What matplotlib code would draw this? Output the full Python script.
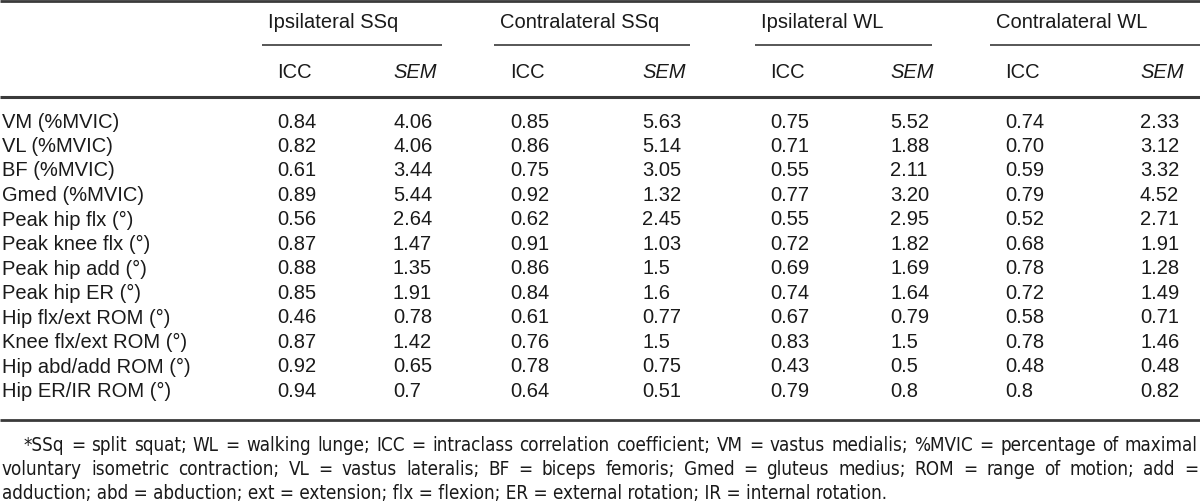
import matplotlib
matplotlib.use('Agg')
import matplotlib.pyplot as plt
from matplotlib import font_manager

# Table data
groups = ['Ipsilateral SSq', 'Contralateral SSq', 'Ipsilateral WL', 'Contralateral WL']
sub_headers = ['ICC', 'SEM'] * 4
measures = ['VM (%MVIC)', 'VL (%MVIC)', 'BF (%MVIC)', 'Gmed (%MVIC)',
            'Peak hip flx (°)', 'Peak knee flx (°)', 'Peak hip add (°)', 'Peak hip ER (°)',
            'Hip flx/ext ROM (°)', 'Knee flx/ext ROM (°)', 'Hip abd/add ROM (°)', 'Hip ER/IR ROM (°)']
ipsi_ssq_icc = ['0.84', '0.82', '0.61', '0.89', '0.56', '0.87', '0.88', '0.85', '0.46', '0.87', '0.92', '0.94']
ipsi_ssq_sem = ['4.06', '4.06', '3.44', '5.44', '2.64', '1.47', '1.35', '1.91', '0.78', '1.42', '0.65', '0.7']
contra_ssq_icc = ['0.85', '0.86', '0.75', '0.92', '0.62', '0.91', '0.86', '0.84', '0.61', '0.76', '0.78', '0.64']
contra_ssq_sem = ['5.63', '5.14', '3.05', '1.32', '2.45', '1.03', '1.5', '1.6', '0.77', '1.5', '0.75', '0.51']
ipsi_wl_icc = ['0.75', '0.71', '0.55', '0.77', '0.55', '0.72', '0.69', '0.74', '0.67', '0.83', '0.43', '0.79']
ipsi_wl_sem = ['5.52', '1.88', '2.11', '3.20', '2.95', '1.82', '1.69', '1.64', '0.79', '1.5', '0.5', '0.8']
contra_wl_icc = ['0.74', '0.70', '0.59', '0.79', '0.52', '0.68', '0.78', '0.72', '0.58', '0.78', '0.48', '0.8']
contra_wl_sem = ['2.33', '3.12', '3.32', '4.52', '2.71', '1.91', '1.28', '1.49', '0.71', '1.46', '0.48', '0.82']
footnote_lines = [
    '*SSq = split squat; WL = walking lunge; ICC = intraclass correlation coefficient; VM = vastus medialis; %MVIC = percentage of maximal',
    'voluntary isometric contraction; VL = vastus lateralis; BF = biceps femoris; Gmed = gluteus medius; ROM = range of motion; add =',
    'adduction; abd = abduction; ext = extension; flx = flexion; ER = external rotation; IR = internal rotation.',
]

columns = [ipsi_ssq_icc, ipsi_ssq_sem, contra_ssq_icc, contra_ssq_sem,
           ipsi_wl_icc, ipsi_wl_sem, contra_wl_icc, contra_wl_sem]

# layout (pixels)
col_x = [277, 393, 510, 642, 770, 890, 1005, 1140]
group_lines = [(262, 442), (494, 690), (755, 932), (990, 1200)]
row_y0, row_dy = 122, 24.5

main_font = 'Liberation Sans'
fs = 14.5
txt = '#1a1a1a'
rule = '#3a3a3a'

# look for a condensed face for the footnote
note_prop = None
for f in font_manager.fontManager.ttflist:
    fn = f.fname.lower()
    if ('condensed' in fn or 'narrow' in fn) and 'bold' not in fn and 'oblique' not in fn \
            and 'italic' not in fn and ('sans' in fn):
        note_prop = font_manager.FontProperties(fname=f.fname, size=13.5)
        break
if note_prop is None:
    note_prop = font_manager.FontProperties(family='Liberation Sans', size=13.5)

fig = plt.figure(figsize=(12, 5.02), dpi=100)
ax = fig.add_axes([0, 0, 1, 1])
ax.set_xlim(0, 1200)
ax.set_ylim(502, 0)
ax.axis('off')

# rules
ax.plot([0, 1200], [1.5, 1.5], color=rule, lw=2.0, solid_capstyle='butt')
ax.plot([0, 1200], [98, 98], color=rule, lw=2.2, solid_capstyle='butt')
ax.plot([0, 1200], [421, 421], color=rule, lw=2.0, solid_capstyle='butt')

for g, (x0, x1) in zip(groups, group_lines):
    ax.plot([x0, x1], [46, 46], color=rule, lw=1.2, solid_capstyle='butt')
    ax.text(x0 + 6, 22, g, ha='left', va='center', fontsize=fs,
            family=main_font, color=txt)

for s, x in zip(sub_headers, col_x):
    style = 'italic' if s == 'SEM' else 'normal'
    ax.text(x, 73, s, ha='left', va='center', fontsize=fs, family=main_font,
            style=style, color=txt)

for r, m in enumerate(measures):
    y = row_y0 + r * row_dy
    ax.text(2, y, m, ha='left', va='center', fontsize=fs, family=main_font, color=txt)
    for x, col in zip(col_x, columns):
        ax.text(x, y, col[r], ha='left', va='center', fontsize=fs,
                family=main_font, color=txt)

# footnote, justified
fig.canvas.draw()
renderer = fig.canvas.get_renderer()
note_y = [446, 470, 494]
for li, line in enumerate(footnote_lines):
    x_start = 24 if li == 0 else 2
    words = line.split(' ')
    if li < 2:
        items = []
        for w in words:
            t = ax.text(0, note_y[li], w, ha='left', va='center',
                        fontproperties=note_prop, color=txt)
            bb = t.get_window_extent(renderer)
            items.append((t, bb.width))
        total = sum(wd for _, wd in items)
        gap = (1198 - x_start - total) / (len(items) - 1)
        x = x_start
        for t, wd in items:
            t.set_x(x)
            x += wd + gap
    else:
        ax.text(x_start, note_y[li], line, ha='left', va='center',
                fontproperties=note_prop, color=txt)

fig.savefig('out.png', dpi=100, facecolor='white')
